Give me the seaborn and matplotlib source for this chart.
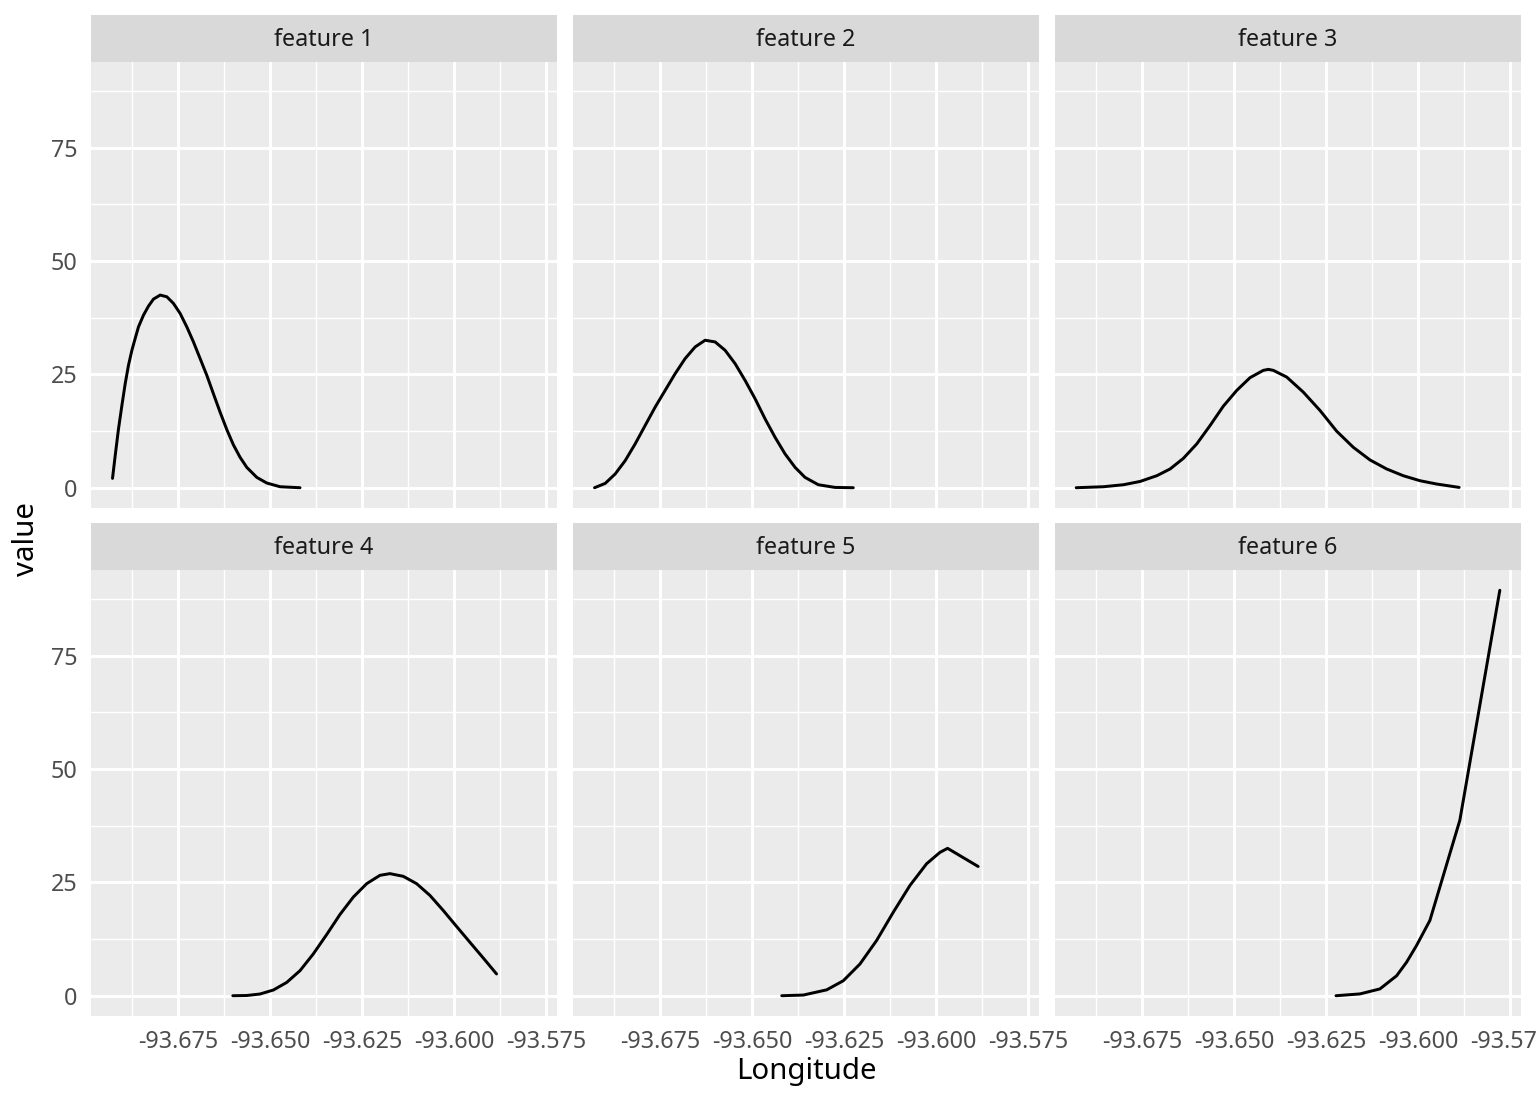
import matplotlib
matplotlib.use("Agg")
import pandas as pd
import matplotlib.pyplot as plt
import seaborn as sns
from matplotlib.ticker import MultipleLocator, FormatStrFormatter
from matplotlib.patches import Rectangle

# facettes
features = ["feature 1", "feature 2", "feature 3", "feature 4", "feature 5", "feature 6"]

# valeurs (longitude, valeur)
lon_f1 = [-93.69285, -93.69212, -93.69122, -93.69030, -93.68940, -93.68851, -93.68758,
          -93.68669, -93.68579, -93.68443, -93.68307, -93.68171, -93.67989, -93.67807,
          -93.67628, -93.67446, -93.67264, -93.67084, -93.66902, -93.66720, -93.66541,
          -93.66359, -93.66177, -93.65997, -93.65815, -93.65633, -93.65361, -93.65090,
          -93.64728, -93.64185]
val_f1 = [2.06, 7.08, 12.99, 18.14, 22.94, 26.99, 30.31, 32.90, 35.46, 38.05, 40.04,
          41.59, 42.48, 42.10, 40.64, 38.43, 35.46, 32.15, 28.47, 24.78, 20.73, 16.66,
          12.83, 9.45, 6.70, 4.49, 2.28, 1.04, 0.22, 0.0]

lon_f2 = [-93.69285, -93.68995, -93.68723, -93.68451, -93.68179, -93.67908, -93.67636,
          -93.67364, -93.67092, -93.66821, -93.66549, -93.66277, -93.66005, -93.65734,
          -93.65462, -93.65190, -93.64918, -93.64647, -93.64375, -93.64103, -93.63831,
          -93.63560, -93.63198, -93.62745, -93.62247]
val_f2 = [0.0, 0.95, 3.03, 5.97, 9.67, 13.72, 17.77, 21.46, 25.15, 28.47, 31.04, 32.52,
          32.15, 30.31, 27.37, 23.67, 19.62, 15.20, 11.13, 7.46, 4.50, 2.28, 0.66, 0.07,
          0.0]

lon_f3 = [-93.69294, -93.68552, -93.68008, -93.67554, -93.67101, -93.66739, -93.66378,
          -93.66014, -93.65652, -93.65291, -93.64927, -93.64565, -93.64204, -93.64068,
          -93.63932, -93.63568, -93.63117, -93.62663, -93.62209, -93.61758, -93.61304,
          -93.60851, -93.60399, -93.59946, -93.59492, -93.58878]
val_f3 = [0.0, 0.22, 0.66, 1.39, 2.65, 4.14, 6.48, 9.67, 13.72, 17.99, 21.46, 24.27,
          25.88, 26.1, 25.88, 24.40, 21.08, 17.04, 12.46, 8.92, 6.13, 4.14, 2.65, 1.55,
          0.82, 0.07]

lon_f4 = [-93.66014, -93.65633, -93.65272, -93.64910, -93.64546, -93.64185, -93.63823,
          -93.63459, -93.63098, -93.62736, -93.62372, -93.62011, -93.61739, -93.61378,
          -93.61014, -93.60652, -93.60291, -93.59927, -93.59565, -93.59204, -93.58840]
val_f4 = [0.0, 0.05, 0.38, 1.26, 2.94, 5.53, 9.23, 13.50, 17.92, 21.75, 24.71, 26.55,
          26.92, 26.33, 24.71, 22.12, 18.81, 15.27, 11.79, 8.34, 4.80]

lon_f5 = [-93.64193, -93.63606, -93.62970, -93.62519, -93.62065, -93.61611, -93.61160,
          -93.60707, -93.60253, -93.59891, -93.59682, -93.58851]
val_f5 = [0.0, 0.15, 1.3, 3.3, 7.0, 12.2, 18.4, 24.3, 29.1, 31.6, 32.5, 28.5]

lon_f6 = [-93.62228, -93.61576, -93.61033, -93.60579, -93.60307, -93.60035, -93.59674,
          -93.58859, -93.57772]
val_f6 = [0.0, 0.4, 1.5, 4.4, 7.4, 11.1, 16.6, 38.7, 89.4]

lons = [lon_f1, lon_f2, lon_f3, lon_f4, lon_f5, lon_f6]
vals = [val_f1, val_f2, val_f3, val_f4, val_f5, val_f6]

df = pd.concat(
    [pd.DataFrame({"feature": f, "Longitude": x, "value": y})
     for f, x, y in zip(features, lons, vals)],
    ignore_index=True,
)

sns.set_theme(style="darkgrid", rc={
    "axes.facecolor": "#EBEBEB",
    "figure.facecolor": "white",
    "axes.edgecolor": "none",
    "xtick.color": "#333333",
    "ytick.color": "#333333",
    "xtick.labelcolor": "#4D4D4D",
    "ytick.labelcolor": "#4D4D4D",
})
plt.rcParams["font.family"] = ["Noto Sans", "DejaVu Sans"]
plt.rcParams["axes.unicode_minus"] = False

g = sns.relplot(
    data=df, x="Longitude", y="value", col="feature", col_wrap=3, kind="line",
    color="black", linewidth=1.07, estimator=None, sort=False,
    height=2.5, aspect=1.0, facet_kws=dict(sharex=True, sharey=True),
)
fig = g.figure
fig.set_size_inches(7.68, 5.52)
W, H = 1536, 1104
fig.subplots_adjust(left=91 / W, right=1521 / W, top=1 - 62 / H, bottom=1 - 1016 / H,
                    wspace=16 / 466, hspace=62 / 446)

g.set_titles("")
g.set_axis_labels("", "")

# limites avec expansion de 5 % comme ggplot
xmin, xmax = df["Longitude"].min(), df["Longitude"].max()
ymin, ymax = df["value"].min(), df["value"].max()
xr, yr = xmax - xmin, ymax - ymin
g.set(xlim=(xmin - 0.05 * xr, xmax + 0.05 * xr), ylim=(ymin - 0.05 * yr, ymax + 0.05 * yr))

strip_h = 47 / 446
for i, ax in enumerate(g.axes.flat):
    ax.xaxis.set_major_locator(MultipleLocator(0.025))
    ax.xaxis.set_minor_locator(MultipleLocator(0.0125))
    ax.xaxis.set_major_formatter(FormatStrFormatter("%.3f"))
    ax.yaxis.set_major_locator(MultipleLocator(25))
    ax.yaxis.set_minor_locator(MultipleLocator(12.5))
    ax.grid(which="major", color="white", linewidth=1.07)
    ax.grid(which="minor", color="white", linewidth=0.53)
    for s in ax.spines.values():
        s.set_visible(False)
    ax.tick_params(which="major", length=2.75, width=1.07, pad=2.2, labelsize=8.4)
    ax.tick_params(which="minor", length=0)
    row, col = divmod(i, 3)
    if row == 0:
        ax.tick_params(axis="x", which="major", length=0, labelbottom=False)
    else:
        ax.tick_params(axis="x", labelbottom=True)
    if col != 0:
        ax.tick_params(axis="y", which="major", length=0, labelleft=False)
    else:
        ax.tick_params(axis="y", labelleft=True)

    ax.add_patch(Rectangle((0, 1), 1, strip_h, transform=ax.transAxes,
                           facecolor="#D9D9D9", edgecolor="none", clip_on=False))
    ax.text(0.5, 1 + 15.5 / 446, features[i], transform=ax.transAxes,
            ha="center", va="baseline", fontsize=8.4, color="#1A1A1A")

fig.text(806 / W, 1 - 1071 / H, "Longitude", ha="center", va="center",
         fontsize=10.6, color="black")
fig.text(27 / W, 1 - 539 / H, "value", ha="center", va="center", rotation=90,
         fontsize=10.6, color="black")

fig.savefig("out.png", dpi=200)
